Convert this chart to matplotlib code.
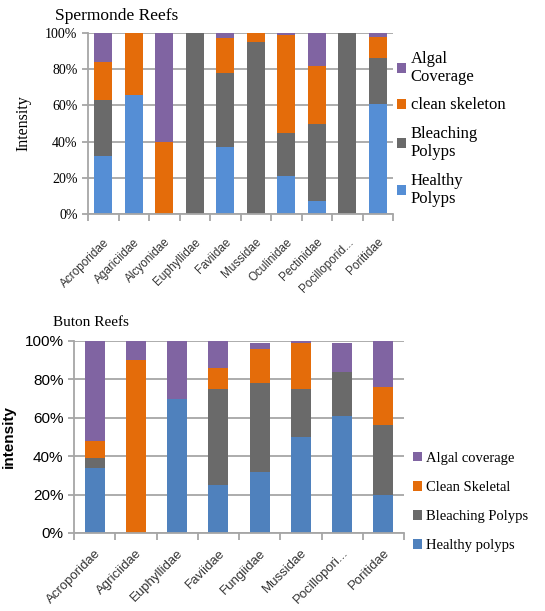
import matplotlib.pyplot as plt
import numpy as np

# Spermonde Reefs data (percent)
sp_families = ["Acroporidae", "Agariciidae", "Alcyonidae", "Euphyllidae", "Faviidae",
               "Mussidae", "Oculinidae", "Pectinidae", "Pocilloporid...", "Poritidae"]
sp_healthy = [32, 66, 0, 0, 37, 0, 21, 7, 0, 61]
sp_bleaching = [31, 0, 0, 100, 41, 95, 24, 43, 100, 25]
sp_clean = [21, 34, 40, 0, 19, 5, 54, 32, 0, 12]
sp_algal = [16, 0, 60, 0, 3, 0, 1, 18, 0, 2]

# Buton Reefs data (percent)
bt_families = ["Acroporidae", "Agriciidae", "Euphyllidae", "Faviidae",
               "Fungiidae", "Mussidae", "Pocillopori...", "Poritidae"]
bt_healthy = [34, 0, 70, 25, 32, 50, 61, 20]
bt_bleaching = [5, 0, 0, 50, 46, 25, 23, 36]
bt_clean = [9, 90, 0, 11, 18, 24, 0, 20]
bt_algal = [52, 10, 30, 14, 3, 1, 15, 24]

serif = "Liberation Serif"
sans = "Liberation Sans"
grid_c = "#A6A6A6"

fig = plt.figure(figsize=(5.45, 6.11), dpi=100)


def excel_axes(ax, n, pad):
    ax.set_ylim(0, 100)
    ax.set_xlim(-0.5, n - 0.5)
    ax.set_yticks(np.arange(0, 101, 20))
    ax.yaxis.grid(True, color=grid_c, lw=1.3)
    ax.set_axisbelow(True)
    for s in ["top", "right"]:
        ax.spines[s].set_visible(False)
    for s in ["left", "bottom"]:
        ax.spines[s].set_color(grid_c)
        ax.spines[s].set_linewidth(1.3)
    ax.set_xticks(np.arange(n))
    ax.set_xticks(np.arange(n + 1) - 0.5, minor=True)
    ax.tick_params(axis="x", which="major", length=0, pad=pad)
    ax.tick_params(axis="x", which="minor", length=5, color=grid_c, width=1.3)
    ax.tick_params(axis="y", length=4, color=grid_c, width=1.3)


def stack(ax, vals, colors, labels, width):
    x = np.arange(len(vals[0]))
    bottom = np.zeros(len(x))
    handles = []
    for v, c, l in zip(vals, colors, labels):
        h = ax.bar(x, v, width, bottom=bottom, color=c, label=l)
        bottom += np.array(v)
        handles.append(h)
    return handles[::-1]


# ---- Spermonde Reefs ----
ax1 = fig.add_axes([88 / 545, 1 - 214 / 611, 305 / 545, 181 / 611])
excel_axes(ax1, len(sp_families), 16)
h = stack(ax1, [sp_healthy, sp_bleaching, sp_clean, sp_algal],
          ["#558ED5", "#6A6A6A", "#E46C0A", "#8064A2"],
          ["Healthy\nPolyps", "Bleaching\nPolyps", "clean skeleton", "Algal\nCoverage"], 0.6)
ax1.set_yticklabels([f"{v}%" for v in range(0, 101, 20)], fontfamily=serif, fontsize=10)
ax1.set_xticklabels(sp_families, rotation=45, ha="right", rotation_mode="anchor",
                    fontfamily=sans, fontsize=8.5, color="#333333")
ax1.set_ylabel("Intensity", fontfamily=serif, fontsize=11.5, labelpad=10)
ax1.text(-0.108, 1.05, "Spermonde Reefs", transform=ax1.transAxes,
         fontfamily=serif, fontsize=12.5, va="bottom")
ax1.legend(handles=h, loc="center left", bbox_to_anchor=(0.99, 0.47), frameon=False,
           prop={"family": serif, "size": 12}, handlelength=0.55, handleheight=0.55,
           handletextpad=0.3, labelspacing=0.75, borderaxespad=0)

# ---- Buton Reefs ----
ax2 = fig.add_axes([74 / 545, 1 - 533 / 611, 330 / 545, 192 / 611])
excel_axes(ax2, len(bt_families), 10)
h = stack(ax2, [bt_healthy, bt_bleaching, bt_clean, bt_algal],
          ["#4F81BD", "#6A6A6A", "#E46C0A", "#8064A2"],
          ["Healthy polyps", "Bleaching Polyps", "Clean Skeletal", "Algal coverage"], 0.48)
ax2.set_yticklabels([f"{v}%" for v in range(0, 101, 20)], fontfamily=sans, fontsize=11)
ax2.set_xticklabels(bt_families, rotation=45, ha="right", rotation_mode="anchor",
                    fontfamily=sans, fontsize=9.5, color="#333333")
ax2.set_ylabel("intensity", fontfamily=sans, fontsize=11, fontweight="bold", labelpad=6)
ax2.text(-0.065, 1.06, "Buton Reefs", transform=ax2.transAxes,
         fontfamily=serif, fontsize=11, va="bottom")
ax2.legend(handles=h, loc="lower left", bbox_to_anchor=(1.01, -0.13), frameon=False,
           prop={"family": serif, "size": 10.5}, handlelength=0.6, handleheight=0.6,
           handletextpad=0.3, labelspacing=1.1, borderaxespad=0)

fig.savefig("out.png", dpi=100)
